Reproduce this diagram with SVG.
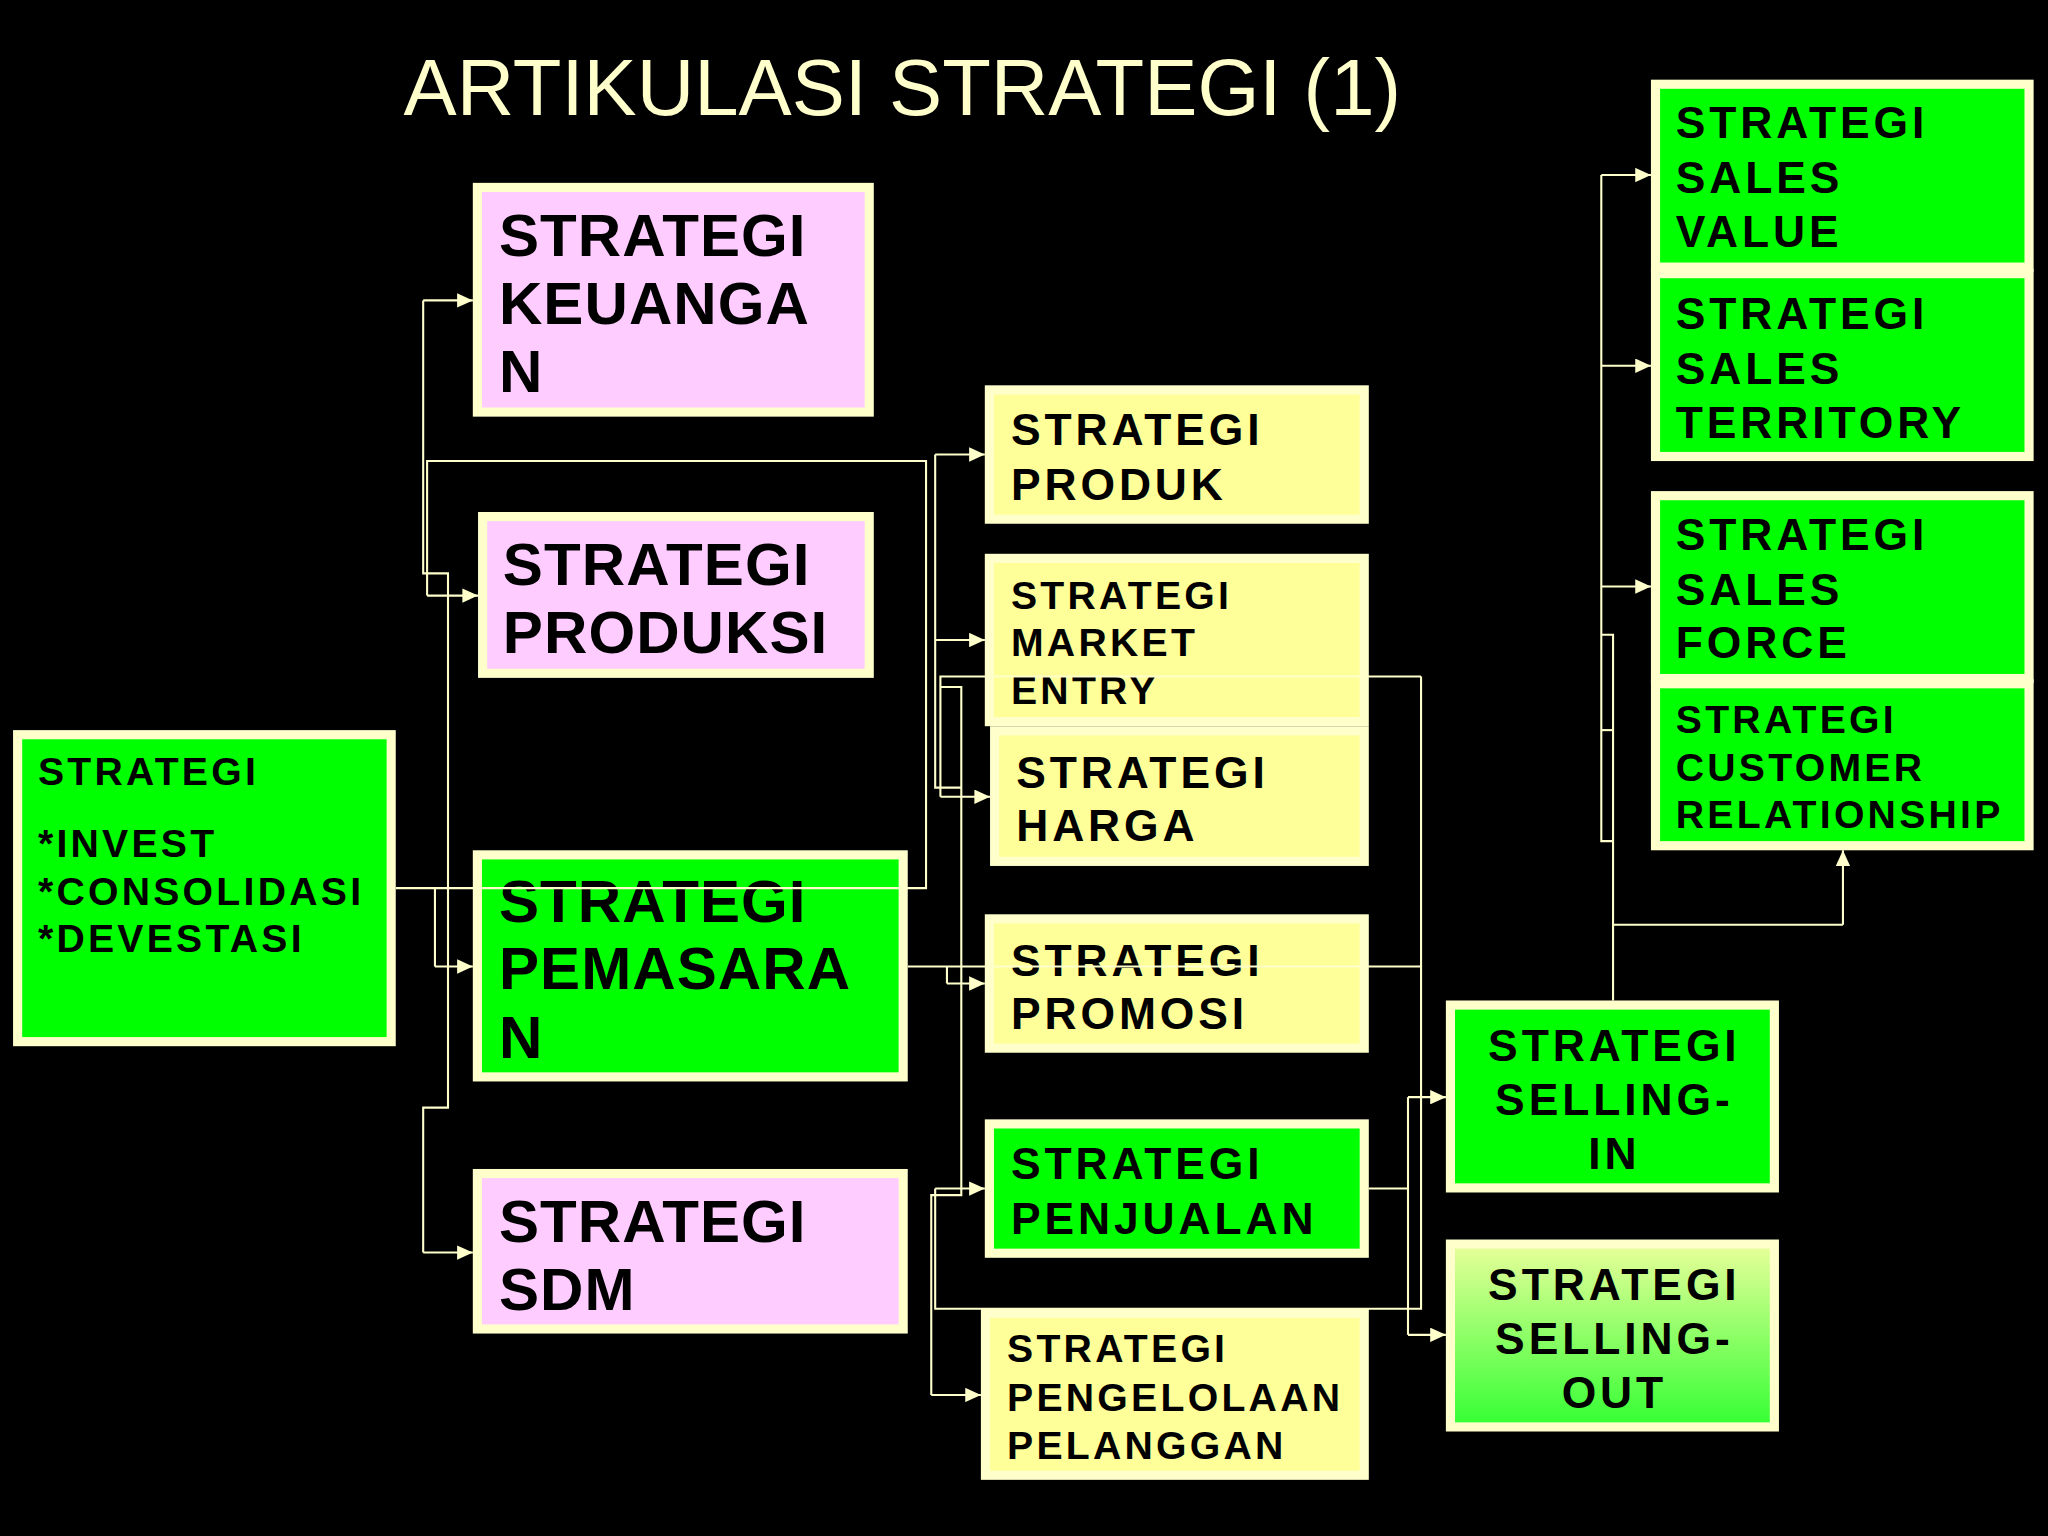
<svg xmlns="http://www.w3.org/2000/svg" width="2048" height="1536" viewBox="0 0 2048 1536">
<defs>
<style>
.bx{stroke:#FFFFCC;stroke-width:7}
.pk{fill:#FFCCFF}
.gr{fill:#00FF00}
.yl{fill:#FFFF99}
.t{font-family:"Liberation Sans",Arial,sans-serif;font-weight:bold;fill:#000000}
.t46{font-size:46px;letter-spacing:0.8px}
.t34{font-size:34px;letter-spacing:3px}
.t30{font-size:30px;letter-spacing:2.5px}
.c{text-anchor:middle}
.ln{fill:none;stroke:#FFFFCC;stroke-width:1.6}
.ar{fill:none;stroke:#FFFFCC;stroke-width:1.6;marker-end:url(#arr)}
.title{font-family:"Liberation Sans",Arial,sans-serif;font-size:61px;fill:#FFFFCC}
</style>
<marker id="arr" markerUnits="userSpaceOnUse" viewBox="0 0 12 11" refX="12" refY="5.5" markerWidth="12" markerHeight="11" orient="auto">
<path d="M0,0 L12,5.5 L0,11 z" fill="#FFFFCC"/>
</marker>
<linearGradient id="gout" x1="0" y1="0" x2="0" y2="1">
<stop offset="0" stop-color="#E8FF9A"/>
<stop offset="1" stop-color="#33FF33"/>
</linearGradient>
</defs>
<rect x="0" y="0" width="2048" height="1536" fill="#000000"/>
<g transform="scale(1.306122)">
<text class="title" x="309" y="88">ARTIKULASI STRATEGI (1)</text>

<g id="keuangan">
<rect class="bx pk" x="365.5" y="143.5" width="300" height="172"/>
<text class="t t46" x="382" y="196">STRATEGI</text>
<text class="t t46" x="382" y="248">KEUANGA</text>
<text class="t t46" x="382" y="300">N</text>
</g>
<g id="produksi">
<rect class="bx pk" x="369.5" y="395.5" width="296" height="120"/>
<text class="t t46" x="385" y="448">STRATEGI</text>
<text class="t t46" x="385" y="500">PRODUKSI</text>
</g>
<g id="pemasaran">
<rect class="bx gr" x="365.5" y="654.5" width="326" height="170"/>
<text class="t t46" x="382" y="706">STRATEGI</text>
<text class="t t46" x="382" y="757">PEMASARA</text>
<text class="t t46" x="382" y="810">N</text>
</g>
<g id="sdm">
<rect class="bx pk" x="365.5" y="898.5" width="326" height="119"/>
<text class="t t46" x="382" y="951">STRATEGI</text>
<text class="t t46" x="382" y="1003">SDM</text>
</g>
<g id="strategi-utama">
<rect class="bx gr" x="13.5" y="562.5" width="286" height="235"/>
<text class="t t30" x="29" y="601">STRATEGI</text>
<text class="t t30" x="29" y="656">*INVEST</text>
<text class="t t30" x="29" y="693">*CONSOLIDASI</text>
<text class="t t30" x="29" y="729">*DEVESTASI</text>
</g>
<g id="produk">
<rect class="bx yl" x="757.5" y="298.5" width="287" height="99"/>
<text class="t t34" x="774" y="341">STRATEGI</text>
<text class="t t34" x="774" y="383">PRODUK</text>
</g>
<g id="market-entry">
<rect class="bx yl" x="757.5" y="427.5" width="287" height="125"/>
<text class="t t30" x="774" y="466">STRATEGI</text>
<text class="t t30" x="774" y="502">MARKET</text>
<text class="t t30" x="774" y="539">ENTRY</text>
</g>
<g id="harga">
<rect class="bx yl" x="761.5" y="559.5" width="283" height="100"/>
<text class="t t34" x="778" y="603">STRATEGI</text>
<text class="t t34" x="778" y="644">HARGA</text>
</g>
<g id="promosi">
<rect class="bx yl" x="757.5" y="703.5" width="287" height="99"/>
<text class="t t34" x="774" y="747">STRATEGI</text>
<text class="t t34" x="774" y="788">PROMOSI</text>
</g>
<g id="penjualan">
<rect class="bx gr" x="757.5" y="860.5" width="287" height="99"/>
<text class="t t34" x="774" y="903">STRATEGI</text>
<text class="t t34" x="774" y="945">PENJUALAN</text>
</g>
<g id="pengelolaan">
<rect class="bx yl" x="754.5" y="1005.5" width="290" height="124"/>
<text class="t t30" x="771" y="1043">STRATEGI</text>
<text class="t t30" x="771" y="1080">PENGELOLAAN</text>
<text class="t t30" x="771" y="1117">PELANGGAN</text>
</g>
<g id="selling-in">
<rect class="bx gr" x="1110.5" y="769.5" width="248" height="140"/>
<text class="t t34 c" x="1236" y="812">STRATEGI</text>
<text class="t t34 c" x="1236" y="854">SELLING-</text>
<text class="t t34 c" x="1236" y="895">IN</text>
</g>
<g id="selling-out">
<rect class="bx" fill="url(#gout)" x="1110.5" y="952.5" width="248" height="140"/>
<text class="t t34 c" x="1236" y="995">STRATEGI</text>
<text class="t t34 c" x="1236" y="1037">SELLING-</text>
<text class="t t34 c" x="1236" y="1078">OUT</text>
</g>
<g id="sales-value">
<rect class="bx gr" x="1267.5" y="64.5" width="286" height="140"/>
<text class="t t34" x="1283" y="106">STRATEGI</text>
<text class="t t34" x="1283" y="148">SALES</text>
<text class="t t34" x="1283" y="189">VALUE</text>
</g>
<g id="sales-territory">
<rect class="bx gr" x="1267.5" y="209.5" width="286" height="140"/>
<text class="t t34" x="1283" y="252">STRATEGI</text>
<text class="t t34" x="1283" y="294">SALES</text>
<text class="t t34" x="1283" y="335">TERRITORY</text>
</g>
<g id="sales-force">
<rect class="bx gr" x="1267.5" y="379.5" width="286" height="140"/>
<text class="t t34" x="1283" y="421">STRATEGI</text>
<text class="t t34" x="1283" y="463">SALES</text>
<text class="t t34" x="1283" y="504">FORCE</text>
</g>
<g id="customer-relationship">
<rect class="bx gr" x="1267.5" y="523.5" width="286" height="124"/>
<text class="t t30" x="1283" y="561">STRATEGI</text>
<text class="t t30" x="1283" y="598">CUSTOMER</text>
<text class="t t30" x="1283" y="634">RELATIONSHIP</text>
</g>

<g id="connectors">
<path class="ln" d="M303,680 H709 V353 H327 V456"/>
<path class="ar" d="M327,456 H366"/>
<path class="ln" d="M333,680 V740"/>
<path class="ar" d="M333,740 H362"/>
<path class="ln" d="M343,680 V439 H324 V230"/>
<path class="ar" d="M324,230 H362"/>
<path class="ln" d="M343,680 V848 H324 V959"/>
<path class="ar" d="M324,959 H362"/>

<path class="ln" d="M736,603 H716 V348"/>
<path class="ar" d="M716,348 H754"/>
<path class="ar" d="M716,490 H754"/>
<path class="ln" d="M1088,518 H720 V610"/>
<path class="ar" d="M720,610 H758"/>
<path class="ln" d="M720,526 H736 V915 H713 V1068"/>
<path class="ar" d="M713,1068 H751"/>
<path class="ln" d="M695,740 H1088"/>
<path class="ln" d="M725,740 V753"/>
<path class="ar" d="M725,753 H754"/>
<path class="ln" d="M1088,518 V1002 H716 V910"/>
<path class="ar" d="M716,910 H754"/>

<path class="ln" d="M1048,910 H1078"/>
<path class="ln" d="M1078,840 V1022"/>
<path class="ar" d="M1078,840 H1107"/>
<path class="ar" d="M1078,1022 H1107"/>

<path class="ln" d="M1235,766 V486 H1226"/>
<path class="ln" d="M1226,134 V644 H1235"/>
<path class="ln" d="M1226,559 H1235"/>
<path class="ar" d="M1226,134 H1264"/>
<path class="ar" d="M1226,280 H1264"/>
<path class="ar" d="M1226,449 H1264"/>
<path class="ln" d="M1235,708 H1411"/>
<path class="ar" d="M1411,708 V651"/>
</g>
</g>
</svg>
